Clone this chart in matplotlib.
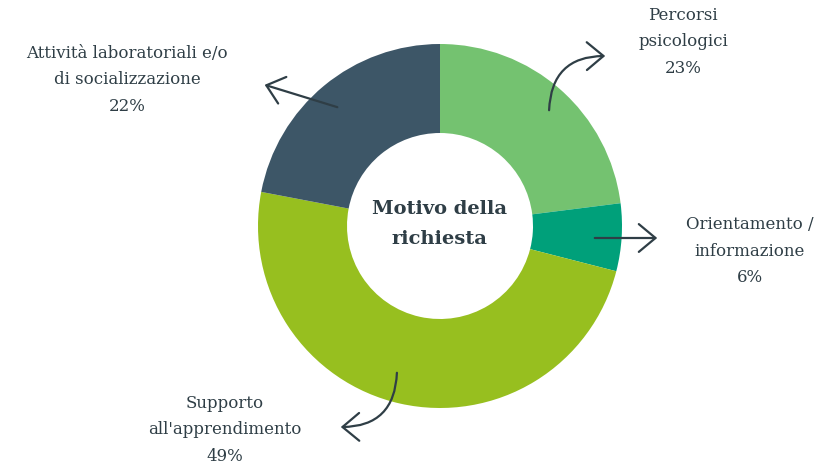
import matplotlib.pyplot as plt
from matplotlib.patches import FancyArrowPatch

labels = ["Percorsi\npsicologici", "Orientamento /\ninformazione",
          "Supporto\nall'apprendimento", "Attività laboratoriali e/o\ndi socializzazione"]
values = [23, 6, 49, 22]
colors = ["#74C270", "#00A07A", "#97BF1F", "#3D5667"]

TXT = "#2F3E46"
H = 468

fig = plt.figure(figsize=(8.26, 4.68), dpi=100)
ax = fig.add_axes([0, 0, 1, 1])

cx, cy, r = 440, H - 226, 182
ax.pie(values, colors=colors, startangle=90, counterclock=False,
       radius=r, center=(cx, cy), frame=True,
       wedgeprops=dict(width=r - 93, linewidth=0))
ax.set_xlim(0, 826)
ax.set_ylim(0, H)
ax.set_aspect("equal")
ax.axis("off")

font = "DejaVu Serif"

ax.text(cx, H - 224, "Motivo della\nrichiesta", ha="center", va="center",
        fontsize=14, fontweight="bold", color=TXT, family=font, linespacing=1.85)

# label positions in pixels (x, y of middle line)
label_pos = [(683, 42), (750, 251), (225, 430), (127, 80)]
for (lx, ly), lab, v in zip(label_pos, labels, values):
    ax.text(lx, H - ly, f"{lab}\n{v}%", ha="center", va="center",
            fontsize=12, color=TXT, family=font, linespacing=1.7)

arrows = [
    ((549, 113), (608, 56), -0.5),
    ((592, 238), (660, 238), 0.0),
    ((397, 370), (338, 427), -0.5),
    ((340, 108), (262, 84), 0.0),
]
for (x1, y1), (x2, y2), rad in arrows:
    ax.add_patch(FancyArrowPatch((x1, H - y1), (x2, H - y2),
                                 arrowstyle="->,head_length=0.6,head_width=0.5",
                                 mutation_scale=20, connectionstyle=f"arc3,rad={rad}",
                                 color=TXT, lw=1.6))

fig.savefig("out.png", dpi=100)
